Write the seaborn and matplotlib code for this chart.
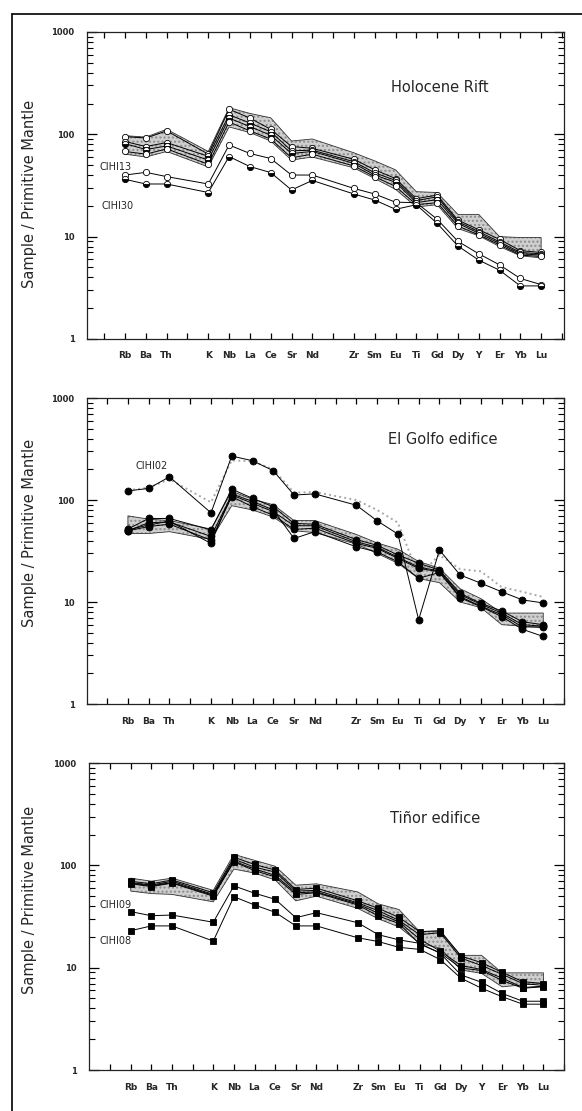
import matplotlib.pyplot as plt
from matplotlib.lines import Line2D
from matplotlib.ticker import FixedLocator, LogLocator, NullFormatter
import seaborn as sns

# element order of the spider diagram and their slots on the x axis
elements = ["Rb", "Ba", "Th", "K", "Nb", "La", "Ce", "Sr", "Nd", "Zr",
            "Sm", "Eu", "Ti", "Gd", "Dy", "Y", "Er", "Yb", "Lu"]
element_pos = [0, 1, 2, 4, 5, 6, 7, 8, 9, 11, 12, 13, 14, 15, 16, 17, 18, 19, 20]

# --- Holocene Rift ---
holo_band_hi = [97, 94, 112, 68, 182, 160, 145, 86, 90, 66, 55, 45, 27.5, 27, 16.5, 16.5, 10, 9.8, 9.8]
holo_band_lo = [64, 60, 68, 48, 118, 104, 86, 56, 60, 47, 37, 29, 19.5, 20.5, 12, 10.2, 8.0, 6.5, 6.2]
holo_a = [95, 92, 108, 64, 176, 144, 112, 76, 73, 57, 45, 37, 23.5, 25.5, 14.5, 11.7, 9.4, 7.3, 7.0]
holo_b = [85, 76, 83, 61, 155, 129, 106, 69, 70, 54, 42, 35.5, 22.5, 24.5, 14.0, 11.2, 8.9, 7.0, 6.8]
holo_c = [81, 71, 77, 56, 144, 119, 98, 65, 68, 52, 40, 34, 21.5, 23, 13.5, 10.8, 8.6, 6.8, 6.6]
holo_d = [68, 64, 72, 51, 132, 108, 90, 59, 64, 49, 38.5, 31, 20.5, 21.5, 12.7, 10.4, 8.3, 6.6, 6.4]
cihi13 = [40, 42.5, 38.6, 32.7, 78.6, 65, 58, 40, 40, 29.6, 26.1, 21.7, 21.5, 14.8, 9.0, 6.8, 5.3, 3.9, 3.4]
cihi30 = [36.3, 32.7, 32.7, 27, 60.6, 48.4, 42.3, 28.6, 35.4, 26.1, 22.8, 18.5, 20.5, 13.5, 8.1, 5.9, 4.7, 3.3, 3.3]

# --- El Golfo edifice ---
golfo_band_hi = [70, 65, 63, 52, 122, 102, 90, 63, 63, 46, 38, 33, 25, 21.5, 13.5, 10.8, 7.8, 7.8, 7.8]
golfo_band_lo = [47, 47, 49, 41, 88, 80, 68, 50, 48, 37, 30, 24, 17, 15.5, 10, 8.8, 6.0, 5.8, 5.6]
golfo_a = [52, 66, 66, 51, 128, 104, 86, 59, 58, 41, 36, 29, 24, 20.6, 12.2, 9.7, 8.2, 6.4, 6.0]
golfo_b = [50, 60, 61, 44, 112, 93, 77, 56, 56, 39, 34.5, 27.5, 22, 20.2, 11.8, 9.5, 7.8, 6.0, 5.8]
golfo_c = [50, 55, 58, 40.5, 108, 86, 71, 51.5, 53, 37.6, 33.6, 26.8, 21.4, 19.8, 11.3, 9.1, 7.5, 5.7, 5.7]
golfo_d = [51, 57, 62, 37.6, 115, 97, 80, 42, 49, 34.8, 31, 24.8, 17.1, 19.5, 11.0, 9.0, 7.2, 5.4, 4.6]
cihi02 = [123, 130, 169, 75, 270, 243, 194, 112, 115, 89, 62.6, 46.4, 6.7, 32.4, 18.4, 15.3, 12.6, 10.5, 9.8]
golfo_dotted = [125, 132, 160, 95, 245, 240, 200, 118, 120, 100, 80, 60, 18, 29, 21, 20, 14, 12.6, 11.2]

# --- Tiñor edifice ---
tinor_band_hi = [75, 70, 75, 57, 128, 112, 98, 64, 66, 55, 42, 37, 22.5, 22.5, 13.2, 13.2, 8.9, 8.9, 8.9]
tinor_band_lo = [56, 53, 52, 44, 92, 84, 72, 45, 50, 38, 30, 25, 17.3, 15.5, 9.5, 8.8, 6.5, 6.8, 7.0]
tinor_a = [70, 66, 72, 54, 120, 102, 90, 58, 60, 45, 38, 31, 22.5, 23, 13, 11.2, 9.0, 7.3, 7.0]
tinor_b = [68, 64, 70, 52, 115, 96, 86, 56, 57, 43, 36, 29, 21, 22, 12.4, 10.5, 8.6, 7.0, 6.7]
tinor_c = [67, 63, 68, 51, 110, 92, 80, 54, 55, 42, 34, 28, 19, 14.5, 10.5, 9.6, 7.9, 6.4, 6.6]
tinor_d = [66, 62, 67, 50, 108, 89, 77, 52, 54, 41, 32, 27, 17, 14, 9.9, 9.4, 7.5, 6.3, 6.5]
cihi09 = [35.3, 32.2, 32.7, 27.8, 63, 53.4, 46.6, 30.8, 34.5, 27.5, 21, 18.7, 17.3, 13.8, 8.5, 7.2, 5.6, 4.7, 4.7]
cihi08 = [23, 25.6, 25.6, 18.2, 49.4, 41, 34.8, 25.6, 25.6, 19.6, 18, 15.8, 15.1, 12, 7.9, 6.3, 5.2, 4.4, 4.4]

sns.set_style("ticks", {"xtick.direction": "in", "ytick.direction": "in"})
plt.rcParams["font.family"] = ["DejaVu Sans"]

OPEN = dict(marker="o", markersize=4.5, markerfacecolor="white", markeredgecolor="k")
HALF = dict(marker="o", markersize=4.5, fillstyle="bottom", markerfacecolor="k",
            markerfacecoloralt="white", markeredgecolor="k")
DOT = dict(marker="o", markersize=5, markerfacecolor="k", markeredgecolor="k")
SQUARE = dict(marker="s", markersize=5, markerfacecolor="k", markeredgecolor="k")


def draw_panel(ax, band_lo, band_hi, lines, title, title_xy, notes, xlim):
    ax.fill_between(element_pos, band_lo, band_hi, facecolor="#cfcfcf",
                    edgecolor="#8c8c8c", hatch="....", linewidth=0, zorder=1)
    ax.fill_between(element_pos, band_lo, band_hi, facecolor="none",
                    edgecolor="#333333", linewidth=0.6, zorder=1.5)
    for values, style in lines:
        sns.lineplot(x=element_pos, y=values, color="k", linewidth=0.7,
                     markeredgewidth=0.6, ax=ax, zorder=3, **style)

    ax.set_yscale("log")
    ax.set_ylim(1, 1000)
    ax.set_xlim(*xlim)
    ax.yaxis.set_major_locator(FixedLocator([1, 10, 100, 1000]))
    ax.set_yticklabels(["1", "10", "100", "1000"], fontsize=6, fontweight="bold")
    ax.yaxis.set_minor_locator(LogLocator(base=10, subs=range(2, 10)))
    ax.yaxis.set_minor_formatter(NullFormatter())
    ax.tick_params(axis="y", which="major", direction="in", left=True, right=True,
                   length=7, width=0.9, pad=9, color="k")
    ax.tick_params(axis="y", which="minor", direction="in", left=True, right=True,
                   length=4, width=0.8, color="k")

    ticks = list(range(-1, 22))
    tick_labels = [elements[element_pos.index(t)] if t in element_pos else "" for t in ticks]
    ax.set_xticks(ticks)
    ax.set_xticklabels(tick_labels, fontsize=6.5, fontweight="bold")
    ax.tick_params(axis="x", which="major", direction="in", top=True, bottom=True,
                   length=4, width=0.9, pad=9, color="k")
    ax.tick_params(axis="x", which="minor", top=False, bottom=False)

    for side in ax.spines.values():
        side.set_visible(True)
        side.set_linewidth(0.9)
        side.set_color("#222222")

    ax.text(title_xy[0], title_xy[1], title, transform=ax.transAxes,
            ha="center", va="center", fontsize=10.5)
    for x, y, text in notes:
        ax.text(x, y, text, ha="left", va="center", fontsize=7)


fig = plt.figure(figsize=(5.82, 11.11), dpi=100)

ax1 = fig.add_axes([0.1495, 0.6949, 0.8196, 0.2763])
draw_panel(ax1, holo_band_lo, holo_band_hi,
           [(holo_a, OPEN), (holo_b, HALF), (holo_c, HALF), (holo_d, OPEN),
            (cihi13, OPEN), (cihi30, HALF)],
           "Holocene Rift", (0.74, 0.82),
           [(-1.25, 48, "CIHI13"), (-1.15, 20, "CIHI30")], (-1.83, 21.1))

ax2 = fig.add_axes([0.1495, 0.3663, 0.8196, 0.2754])
sns.lineplot(x=element_pos, y=golfo_dotted, color="#a8a8a8", linewidth=1.4,
             linestyle=":", ax=ax2, zorder=2)
draw_panel(ax2, golfo_band_lo, golfo_band_hi,
           [(golfo_a, DOT), (golfo_b, DOT), (golfo_c, DOT), (golfo_d, DOT),
            (cihi02, DOT)],
           "El Golfo edifice", (0.745, 0.866),
           [(0.38, 215, "CIHI02")], (-1.97, 20.9))

ax3 = fig.add_axes([0.153, 0.0369, 0.8162, 0.2763])
draw_panel(ax3, tinor_band_lo, tinor_band_hi,
           [(tinor_a, SQUARE), (tinor_b, SQUARE), (tinor_c, SQUARE), (tinor_d, SQUARE),
            (cihi09, SQUARE), (cihi08, SQUARE)],
           "Tiñor edifice", (0.728, 0.82),
           [(-1.5, 41, "CIHI09"), (-1.5, 18.2, "CIHI08")], (-2.02, 20.8))

for y_px in (194, 533, 900):
    fig.text(30 / 582, 1 - y_px / 1111, "Sample / Primitive Mantle",
             rotation=90, ha="center", va="center", fontsize=10.5)

# outer frame of the figure (left and top edges)
fig.add_artist(Line2D([12 / 582, 12 / 582], [0, 1 - 14 / 1111], color="k", linewidth=1.2))
fig.add_artist(Line2D([12 / 582, 1], [1 - 14 / 1111, 1 - 14 / 1111], color="k", linewidth=1.2))

fig.savefig("out.png", dpi=100)
